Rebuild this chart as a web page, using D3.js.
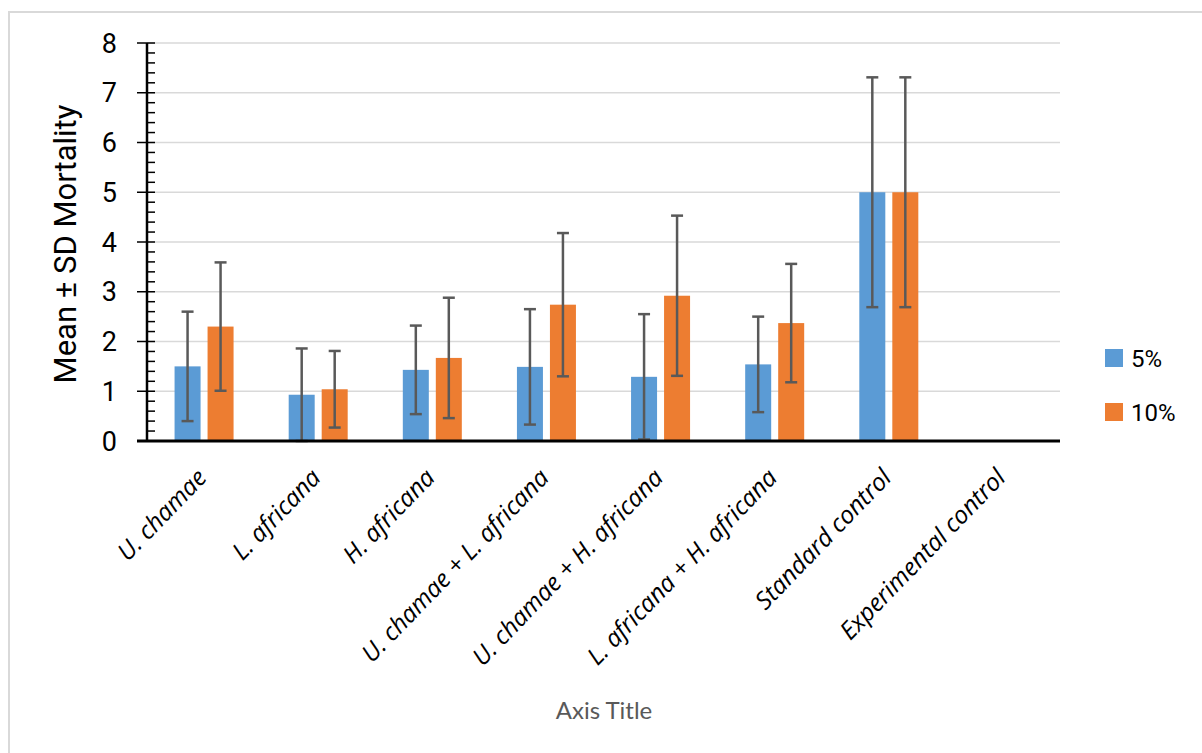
<!DOCTYPE html>
<html>
<head>
<meta charset="utf-8">
<script src="https://cdn.jsdelivr.net/npm/d3@7"></script>
<style>
  html, body { margin: 0; padding: 0; background: #fff; }
  svg { display: block; }
</style>
</head>
<body>
<svg id="chart" width="1202" height="753"></svg>
<script>
const categories = ["U. chamae", "L. africana", "H. africana", "U. chamae + L. africana",
  "U. chamae + H. africana", "L. africana + H. africana", "Standard control", "Experimental control"];
const seriesNames = ["5%", "10%"];
const mean5 = [1.50, 0.93, 1.43, 1.49, 1.29, 1.54, 5.0, 0];
const sd5 = [1.10, 0.93, 0.89, 1.16, 1.26, 0.96, 2.31, 0];
const mean10 = [2.30, 1.04, 1.67, 2.74, 2.92, 2.37, 5.0, 0];
const sd10 = [1.29, 0.77, 1.21, 1.44, 1.61, 1.19, 2.31, 0];
const yTicks = [0, 1, 2, 3, 4, 5, 6, 7, 8];
const colors = ["#5b9bd5", "#ed7d31"];

const svg = d3.select("#chart");

// outer border
svg.append("rect").attr("x", 9).attr("y", 12).attr("width", 1202).attr("height", 760)
  .attr("fill", "none").attr("stroke", "#d9d9d9").attr("stroke-width", 2);

const pLeft = 147, pRight = 1060, pTop = 43, pBottom = 441;
const x0 = d3.scaleBand().domain(categories).range([pLeft, pRight]);
const y = d3.scaleLinear().domain([0, 8]).range([pBottom, pTop]);

// gridlines
svg.append("g").selectAll("line").data(yTicks.filter(d => d > 0)).join("line")
  .attr("x1", pLeft).attr("x2", pRight)
  .attr("y1", d => y(d)).attr("y2", d => y(d))
  .attr("stroke", "#d9d9d9").attr("stroke-width", 1.5);

// bars
const rows = categories.map((c, i) => ({
  cat: c,
  vals: [{s: 0, m: mean5[i], sd: sd5[i]}, {s: 1, m: mean10[i], sd: sd10[i]}]
}));
const barW = 26, gap = 7;
const xs = d3.scaleOrdinal().domain([0, 1]).range([-(barW + gap / 2), gap / 2]);

const groups = svg.append("g").selectAll("g").data(rows).join("g")
  .attr("transform", d => `translate(${x0(d.cat) + x0.bandwidth() / 2},0)`);

groups.selectAll("rect").data(d => d.vals.filter(v => v.m > 0)).join("rect")
  .attr("x", v => xs(v.s)).attr("width", barW)
  .attr("y", v => y(v.m)).attr("height", v => y(0) - y(v.m))
  .attr("fill", v => colors[v.s]);

// error bars
const eb = groups.selectAll("g.err").data(d => d.vals.filter(v => v.sd > 0)).join("g").attr("class", "err");
eb.append("line")
  .attr("x1", v => xs(v.s) + barW / 2).attr("x2", v => xs(v.s) + barW / 2)
  .attr("y1", v => y(v.m + v.sd)).attr("y2", v => y(Math.max(0, v.m - v.sd)))
  .attr("stroke", "#595959").attr("stroke-width", 2.5);
eb.selectAll("line.cap").data(v => [
    {x: xs(v.s) + barW / 2, yy: y(v.m + v.sd)},
    {x: xs(v.s) + barW / 2, yy: y(Math.max(0, v.m - v.sd))}]).join("line").attr("class", "cap")
  .attr("x1", d => d.x - 6).attr("x2", d => d.x + 6)
  .attr("y1", d => d.yy).attr("y2", d => d.yy)
  .attr("stroke", "#595959").attr("stroke-width", 2.5);

// y axis with major and minor ticks
const yAxisG = svg.append("g");
const minor = d3.range(0, 8.001, 0.2).filter(v => Math.abs(v - Math.round(v)) > 1e-6);
yAxisG.selectAll("line.minor").data(minor).join("line").attr("class", "minor")
  .attr("x1", pLeft).attr("x2", pLeft + 8)
  .attr("y1", d => y(d)).attr("y2", d => y(d))
  .attr("stroke", "#000").attr("stroke-width", 1.5);
yAxisG.selectAll("line.major").data(yTicks).join("line").attr("class", "major")
  .attr("x1", pLeft - 10).attr("x2", pLeft + 8)
  .attr("y1", d => y(d)).attr("y2", d => y(d))
  .attr("stroke", "#000").attr("stroke-width", 1.5);
yAxisG.append("line").attr("x1", pLeft).attr("x2", pLeft).attr("y1", y(8)).attr("y2", y(0))
  .attr("stroke", "#000").attr("stroke-width", 2.5);
yAxisG.selectAll("text").data(yTicks).join("text")
  .attr("x", pLeft - 30).attr("y", d => y(d)).attr("dy", "0.36em")
  .attr("text-anchor", "end")
  .attr("font-family", "Roboto, 'Noto Sans', sans-serif").attr("font-size", 27)
  .attr("fill", "#000").text(d => d);

// x axis line
svg.append("line").attr("x1", pLeft - 10).attr("x2", pRight).attr("y1", y(0)).attr("y2", y(0))
  .attr("stroke", "#000").attr("stroke-width", 3);

// x labels
svg.append("g").selectAll("text").data(categories).join("text")
  .attr("transform", d => `translate(${x0(d) + x0.bandwidth() / 2 + 4},${pBottom + 38}) rotate(-46)`)
  .attr("text-anchor", "end")
  .attr("font-family", "'Open Sans', 'Noto Sans', sans-serif").attr("font-style", "italic")
  .attr("font-size", 24.5).attr("fill", "#000").text(d => d);

// y title
svg.append("text")
  .attr("transform", `translate(76,${(pTop + pBottom) / 2 + 2}) rotate(-90)`)
  .attr("text-anchor", "middle")
  .attr("font-family", "Roboto, 'Noto Sans', sans-serif").attr("font-size", 31)
  .attr("fill", "#000").text("Mean ± SD Mortality");

// x title
svg.append("text").attr("x", 604).attr("y", 719).attr("text-anchor", "middle")
  .attr("font-family", "Lato, 'Open Sans', sans-serif")
  .attr("font-size", 24).attr("fill", "#595959").text("Axis Title");

// legend
const lg = svg.append("g").selectAll("g").data(seriesNames).join("g")
  .attr("transform", (d, i) => `translate(1105,${349 + i * 54})`);
lg.append("rect").attr("width", 18).attr("height", 18).attr("fill", (d, i) => colors[i]);
lg.append("text").attr("x", 26).attr("y", 18)
  .attr("font-family", "Roboto, 'Noto Sans', sans-serif").attr("font-size", 24)
  .attr("fill", "#000").text(d => d);
</script>
</body>
</html>
